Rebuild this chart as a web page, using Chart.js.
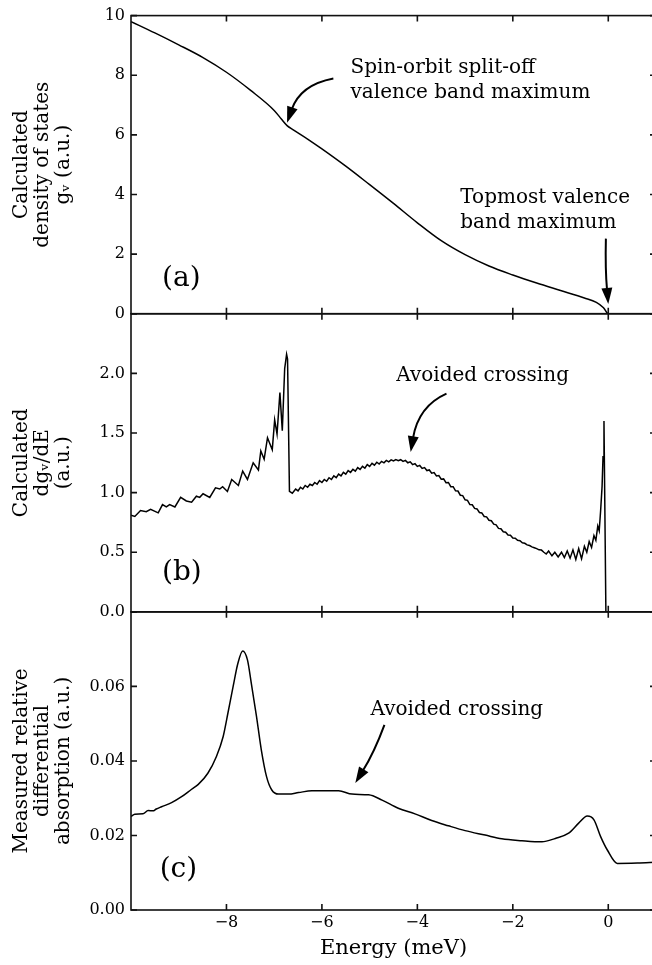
<!DOCTYPE html>
<html>
<head>
<meta charset="utf-8">
<script src="https://cdn.jsdelivr.net/npm/chart.js@4.4.0/dist/chart.umd.min.js"></script>
<style>
  html, body { margin: 0; padding: 0; background: #fff; overflow: hidden; }
  #wrap { position: relative; width: 656px; height: 965px; }
</style>
</head>
<body>
<div id="wrap"><canvas id="bandChart" width="656" height="965"></canvas></div>
<script>
// x axis: energy (meV)
const energyTicks = [-8, -6, -4, -2, 0];

// (a) calculated density of states g_v
const dosEnergy = [-10, -9.5, -9, -8.5, -8, -7.5, -7, -6.85, -6.73, -6.6, -6.3, -6, -5.5, -5, -4.5, -4, -3.5,
  -3, -2.5, -2, -1.5, -1, -0.5, -0.25, -0.1, 0, 1];
const dosValue = [9.8, 9.42, 9.02, 8.6, 8.1, 7.5, 6.82, 6.53, 6.31, 6.17, 5.86, 5.53, 4.95, 4.33, 3.7, 3.05, 2.45,
  1.98, 1.6, 1.3, 1.03, 0.78, 0.53, 0.38, 0.2, 0, 0];

// (b) calculated dg_v/dE
const slopeEnergy = [
  -10.0, -9.92, -9.80, -9.68, -9.59, -9.43, -9.34, -9.26, -9.19, -9.08, -8.96, -8.84, -8.73, -8.63, -8.56, -8.49,
  -8.35, -8.23, -8.14, -8.08, -7.98, -7.89, -7.75, -7.66, -7.56, -7.44, -7.33, -7.28, -7.21, -7.14, -7.04, -6.99,
  -6.94, -6.88, -6.83, -6.78, -6.74, -6.72, -6.68, -6.62,
  -6.55, -6.50, -6.45, -6.40, -6.35, -6.30, -6.25, -6.20, -6.15, -6.10, -6.05, -6.00, -5.95, -5.90, -5.85, -5.80,
  -5.75, -5.70, -5.65, -5.60, -5.55, -5.50, -5.45, -5.40, -5.35, -5.30, -5.25, -5.20, -5.15, -5.10, -5.05, -5.00,
  -4.95, -4.90, -4.85, -4.80, -4.75, -4.70, -4.65, -4.60, -4.55, -4.50, -4.45, -4.40, -4.35, -4.30, -4.25, -4.20,
  -4.15, -4.10, -4.05, -4.00, -3.95, -3.90, -3.85, -3.80, -3.75, -3.70, -3.65, -3.60, -3.55, -3.50, -3.45, -3.40,
  -3.35, -3.30, -3.25, -3.20, -3.15, -3.10, -3.05, -3.00, -2.95, -2.90, -2.85, -2.80, -2.75, -2.70, -2.65, -2.60,
  -2.55, -2.50, -2.45, -2.40, -2.35, -2.30, -2.25, -2.20, -2.15, -2.10, -2.05, -2.00, -1.95, -1.90, -1.85, -1.80,
  -1.75, -1.70, -1.65, -1.60, -1.55, -1.50, -1.45, -1.40,
  -1.35, -1.30, -1.25, -1.18, -1.12, -1.05, -0.98, -0.92, -0.86, -0.80, -0.74, -0.68, -0.62, -0.56, -0.50, -0.45,
  -0.40, -0.35, -0.30, -0.26, -0.22, -0.19, -0.16, -0.13, -0.11, -0.09, -0.05, 1.0];
const slopeValue = [
  0.81, 0.80, 0.85, 0.84, 0.86, 0.83, 0.90, 0.88, 0.90, 0.88, 0.96, 0.93, 0.92, 0.97, 0.96, 0.99,
  0.96, 1.04, 1.03, 1.05, 1.01, 1.11, 1.06, 1.18, 1.11, 1.25, 1.19, 1.35, 1.28, 1.46, 1.36, 1.61,
  1.49, 1.84, 1.52, 2.04, 2.16, 2.12, 1.01, 0.995,
  1.03, 1.015, 1.045, 1.03, 1.06, 1.045, 1.07, 1.06, 1.085, 1.07, 1.10, 1.085, 1.11, 1.095, 1.125, 1.11,
  1.14, 1.125, 1.155, 1.14, 1.17, 1.155, 1.185, 1.17, 1.195, 1.18, 1.21, 1.195, 1.22, 1.205, 1.235, 1.22,
  1.245, 1.23, 1.255, 1.24, 1.262, 1.25, 1.27, 1.258, 1.275, 1.265, 1.277, 1.268, 1.276, 1.262, 1.27, 1.25,
  1.258, 1.235, 1.243, 1.22, 1.228, 1.203, 1.21, 1.185, 1.19, 1.163, 1.168, 1.14, 1.143, 1.113, 1.115, 1.083,
  1.085, 1.05, 1.05, 1.015, 1.013, 0.978, 0.975, 0.94, 0.935, 0.90, 0.898, 0.868, 0.863, 0.833, 0.83, 0.80,
  0.797, 0.768, 0.764, 0.735, 0.73, 0.70, 0.697, 0.672, 0.668, 0.645, 0.642, 0.62, 0.617, 0.60, 0.597, 0.58,
  0.575, 0.562, 0.556, 0.545, 0.538, 0.53, 0.52, 0.518,
  0.50, 0.485, 0.51, 0.47, 0.50, 0.46, 0.50, 0.455, 0.51, 0.45, 0.52, 0.44, 0.53, 0.445, 0.55, 0.50,
  0.59, 0.54, 0.64, 0.60, 0.72, 0.68, 0.85, 1.05, 1.30, 1.60, 0, 0];

// (c) measured relative differential absorption
const absEnergy = [-10, -9.92, -9.75, -9.64, -9.54, -9.47, -9.36, -9.15, -8.94, -8.73, -8.59, -8.39, -8.21, -8.07,
  -7.97, -7.86, -7.76, -7.66, -7.56, -7.48, -7.37, -7.27, -7.16, -7.05, -6.91, -6.70, -6.49, -6.21, -5.93, -5.65,
  -5.37, -5.02, -4.74, -4.40, -4.05, -3.70, -3.35, -3.00, -2.58, -2.23, -1.81, -1.39, -1.11, -0.83, -0.62, -0.44,
  -0.30, -0.16, -0.02, 0.19, 0.61, 1.0];
const absValue = [0.0251, 0.0257, 0.0258, 0.0267, 0.0266, 0.0271, 0.0277, 0.0288, 0.0304, 0.0324, 0.0337, 0.0367,
  0.0412, 0.0465, 0.0528, 0.0600, 0.0662, 0.0695, 0.0671, 0.0609, 0.0519, 0.0430, 0.0358, 0.0322, 0.0311, 0.0311,
  0.0315, 0.0320, 0.0320, 0.0320, 0.0311, 0.0309, 0.0295, 0.0273, 0.0258, 0.0240, 0.0226, 0.0213, 0.0201, 0.0191,
  0.0186, 0.0183, 0.0192, 0.0206, 0.0233, 0.0252, 0.0242, 0.0197, 0.0161, 0.0125, 0.0126, 0.0128];

const SERIF = '"DejaVu Serif", "Liberation Serif", serif';
const TICK = 6;

const pairs = (xs, ys) => xs.map((x, i) => ({ x: x, y: ys[i] }));
const minus = v => (v < 0 ? '\u2212' + Math.abs(v) : String(v));

// text notes and curved arrows, placed in data units of each panel
const notes = [
  { axis: 'yA', lines: ['Spin-orbit split-off', 'valence band maximum'], at: [-5.40, 8.26],
    arrow: { from: [-5.76, 7.89], ctrl: [-6.45, 7.68], to: [-6.73, 6.41] } },
  { axis: 'yA', lines: ['Topmost valence', 'band maximum'], at: [-3.10, 3.89],
    arrow: { from: [-0.05, 2.52], ctrl: [-0.065, 1.5], to: [0.0, 0.33] } },
  { axis: 'yB', lines: ['Avoided crossing'], at: [-4.44, 1.98],
    arrow: { from: [-3.39, 1.83], ctrl: [-3.98, 1.725], to: [-4.14, 1.34] } },
  { axis: 'yC', lines: ['Avoided crossing'], at: [-4.98, 0.0537],
    arrow: { from: [-4.69, 0.0497], ctrl: [-4.90, 0.0424], to: [-5.30, 0.0341] } }
];
const panelTags = [
  { axis: 'yA', text: '(a)', at: [-9.35, 1.17] },
  { axis: 'yB', text: '(b)', at: [-9.35, 0.325] },
  { axis: 'yC', text: '(c)', at: [-9.4, 0.0107] }
];

// box and inward ticks around every panel
const framePlugin = {
  id: 'panelFrame',
  afterDatasetsDraw(chart) {
    const { ctx, chartArea, scales } = chart;
    const xs = scales.x;
    ctx.save();
    ctx.strokeStyle = '#111';
    ctx.lineWidth = 1.6;
    ['yA', 'yB', 'yC'].forEach(id => {
      const s = scales[id];
      ctx.strokeRect(chartArea.left, s.top, chartArea.right - chartArea.left, s.bottom - s.top);
      ctx.beginPath();
      s.ticks.forEach(t => {
        const py = s.getPixelForValue(t.value);
        ctx.moveTo(chartArea.left, py); ctx.lineTo(chartArea.left + TICK, py);
        ctx.moveTo(chartArea.right, py); ctx.lineTo(chartArea.right - TICK, py);
      });
      xs.ticks.forEach(t => {
        const px = xs.getPixelForValue(t.value);
        ctx.moveTo(px, s.top); ctx.lineTo(px, s.top + TICK);
        ctx.moveTo(px, s.bottom); ctx.lineTo(px, s.bottom - TICK);
      });
      ctx.stroke();
    });
    ctx.restore();
  }
};

const notePlugin = {
  id: 'notes',
  afterDatasetsDraw(chart) {
    const { ctx, scales } = chart;
    const xs = scales.x;
    const pt = (s, p) => ({ x: xs.getPixelForValue(p[0]), y: s.getPixelForValue(p[1]) });
    ctx.save();
    ctx.fillStyle = '#000';
    ctx.strokeStyle = '#000';
    ctx.textBaseline = 'middle';
    ctx.textAlign = 'left';
    ctx.font = '20px ' + SERIF;
    notes.forEach(n => {
      const s = scales[n.axis];
      const p = pt(s, n.at);
      n.lines.forEach((line, i) => ctx.fillText(line, p.x, p.y + i * 25));
      const a = pt(s, n.arrow.from), c = pt(s, n.arrow.ctrl), b = pt(s, n.arrow.to);
      let dx = b.x - c.x, dy = b.y - c.y;
      const len = Math.hypot(dx, dy);
      dx /= len; dy /= len;
      const head = 16, half = 5.5;
      const bx = b.x - dx * head, by = b.y - dy * head;
      ctx.lineWidth = 2;
      ctx.beginPath();
      ctx.moveTo(a.x, a.y);
      ctx.quadraticCurveTo(c.x, c.y, bx + dx * 2, by + dy * 2);
      ctx.stroke();
      ctx.beginPath();
      ctx.moveTo(b.x, b.y);
      ctx.lineTo(bx - dy * half, by + dx * half);
      ctx.lineTo(bx + dy * half, by - dx * half);
      ctx.closePath();
      ctx.fill();
    });
    ctx.font = '28px ' + SERIF;
    panelTags.forEach(t => {
      const p = pt(scales[t.axis], t.at);
      ctx.fillText(t.text, p.x, p.y);
    });
    ctx.restore();
  }
};

const tickFont = { family: SERIF, size: 16 };
const titleFont = { family: SERIF, size: 20, lineHeight: 1.05 };
const fixWidth = s => { s.width = 131; };

function panelAxis(weight, min, max, step, label, title) {
  return {
    type: 'linear', position: 'left', stack: 'panels', stackWeight: 1, weight: weight,
    min: min, max: max,
    grid: { display: false, drawTicks: false },
    border: { display: false },
    ticks: { stepSize: step, padding: 6, color: '#000', font: tickFont, callback: label },
    title: { display: true, text: title, color: '#000', font: titleFont, padding: { top: 11, bottom: 0 } },
    afterFit: fixWidth
  };
}

new Chart(document.getElementById('bandChart'), {
  type: 'line',
  data: {
    datasets: [
      { data: pairs(dosEnergy, dosValue), yAxisID: 'yA', cubicInterpolationMode: 'monotone' },
      { data: pairs(slopeEnergy, slopeValue), yAxisID: 'yB', tension: 0 },
      { data: pairs(absEnergy, absValue), yAxisID: 'yC', cubicInterpolationMode: 'monotone' }
    ]
  },
  options: {
    responsive: false,
    animation: false,
    layout: { padding: { top: 15, right: 0, bottom: 0, left: 0 } },
    plugins: { legend: { display: false }, tooltip: { enabled: false } },
    elements: {
      point: { radius: 0 },
      line: { borderColor: '#000', borderWidth: 1.5, fill: false }
    },
    scales: {
      x: {
        type: 'linear', position: 'bottom', min: -10, max: 1,
        grid: { display: false, drawTicks: false },
        border: { display: false },
        afterBuildTicks: s => { s.ticks = energyTicks.map(v => ({ value: v })); },
        ticks: { padding: 3, color: '#000', font: tickFont, callback: v => minus(v) },
        title: { display: true, text: 'Energy (meV)', color: '#000', font: { family: SERIF, size: 21 },
                 padding: { top: 0, bottom: 4 } },
        afterFit: s => { s.height = 55; }
      },
      yA: panelAxis(3, 0, 10, 2, v => String(v),
        ['Calculated', 'density of states', 'g\u1d65 (a.u.)']),
      yB: panelAxis(2, 0, 2.5, 0.5, v => (v > 2.4 ? '' : v.toFixed(1)),
        ['Calculated', 'dg\u1d65/dE', '(a.u.)']),
      yC: panelAxis(1, 0, 0.08, 0.02, v => (v > 0.07 ? '' : v.toFixed(2)),
        ['Measured relative', 'differential', 'absorption (a.u.)'])
    }
  },
  plugins: [framePlugin, notePlugin]
});
</script>
</body>
</html>
